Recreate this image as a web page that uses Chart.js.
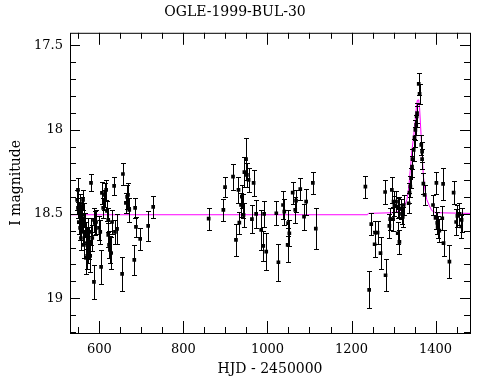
<!DOCTYPE html>
<html>
<head>
<meta charset="utf-8">
<script src="https://cdn.jsdelivr.net/npm/chart.js@4.4.1/dist/chart.umd.min.js"></script>
<style>
html,body{margin:0;padding:0;background:#fff}
</style>
</head>
<body>
<canvas id="c" width="490" height="380"></canvas>
<script>
// photometry: HJD-2450000, I mag, error
const hjd = [
  547,549,549,551,551,554,554,556,556,559,559,561,561,563,563,566,568,568,571,571,
  573,573,575,578,580,580,583,587,587,589,592,599,602,604,606,609,611,613,616,618,
  621,621,623,625,628,630,635,637,642,654,656,663,666,668,671,683,685,687,697,716,728,
  860,895,899,918,925,931,933,937,939,941,943,945,949,951,955,963,967,973,985,990,
  992,997,1021,1026,1037,1040,1049,1048,1052,1060,1066,1068,1078,1087,1092,1108,1115,
  1233,1242,1247,1255,1256,1262,1269,1280,1281,1290,1292,1296,1299,1300,1302,1306,1310,1310,1312,1314,
  1317,1320,1322,1324,1336,1338,1340,1342,1344,1345,1348,1350,1352,1354,1355,1356,1360,1362,1366,1368,
  1368,1371,1374,1394,1400,1402,1404,1405,1409,1416,1418,1419,1433,1443,1449,1452,1457,1462,1461
];
const mag = [
  18.417,18.357,18.464,18.494,18.548,18.441,18.583,18.506,18.643,18.458,18.536,18.417,18.607,18.684,18.506,18.565,18.631,18.761,18.672,18.749,
  18.595,18.714,18.672,18.749,18.316,18.607,18.643,18.904,18.536,18.553,18.548,18.583,18.607,18.815,18.375,18.464,18.417,18.387,18.357,18.482,
  18.536,18.625,18.684,18.714,18.732,18.548,18.334,18.607,18.589,18.856,18.263,18.435,18.399,18.387,18.476,18.773,18.464,18.577,18.648,18.571,18.458,
  18.528,18.476,18.341,18.279,18.654,18.357,18.552,18.447,18.397,18.452,18.506,18.252,18.175,18.268,18.298,18.531,18.316,18.5,18.595,18.69,
  18.5,18.724,18.496,18.787,18.447,18.486,18.555,18.684,18.615,18.374,18.476,18.421,18.353,18.516,18.427,18.316,18.587,
  18.338,18.951,18.561,18.68,18.611,18.611,18.733,18.37,18.864,18.571,18.531,18.357,18.531,18.427,18.452,18.427,18.466,18.615,18.457,18.666,
  18.47,18.5,18.518,18.447,18.437,18.374,18.338,18.288,18.219,18.175,18.12,18.045,18.001,17.972,17.922,17.902,17.728,17.787,18.09,18.175,
  18.131,18.32,18.387,18.447,18.524,18.316,18.553,18.577,18.599,18.526,18.322,18.674,18.783,18.374,18.548,18.512,18.5,18.536,18.575
];
const err = [
  0.059,0.071,0.06,0.06,0.07,0.06,0.07,0.06,0.07,0.06,0.06,0.06,0.07,0.08,0.07,0.07,0.08,0.095,0.08,0.08,
  0.07,0.08,0.095,0.095,0.05,0.08,0.08,0.1,0.07,0.07,0.07,0.07,0.07,0.1,0.065,0.06,0.06,0.07,0.06,0.06,
  0.07,0.07,0.08,0.08,0.095,0.07,0.055,0.07,0.09,0.1,0.065,0.06,0.07,0.07,0.07,0.09,0.06,0.06,0.065,0.09,0.065,
  0.065,0.065,0.06,0.077,0.095,0.077,0.065,0.07,0.07,0.07,0.07,0.09,0.125,0.07,0.07,0.085,0.077,0.085,0.12,0.09,
  0.077,0.11,0.07,0.11,0.085,0.077,0.077,0.1,0.077,0.065,0.077,0.065,0.065,0.077,0.077,0.065,0.12,
  0.065,0.11,0.065,0.077,0.07,0.07,0.095,0.07,0.095,0.07,0.065,0.077,0.07,0.06,0.06,0.06,0.06,0.065,0.06,0.07,
  0.06,0.06,0.06,0.06,0.06,0.06,0.06,0.06,0.06,0.06,0.065,0.06,0.06,0.06,0.06,0.06,0.065,0.06,0.06,0.06,
  0.06,0.06,0.06,0.06,0.065,0.065,0.065,0.065,0.07,0.07,0.095,0.077,0.1,0.07,0.077,0.065,0.065,0.07,0.07
];

// microlensing model curve (magenta)
const modelHjd = [530,1238,1240,1300,1315,1325,1332,1336,1340,1344,1348,1352,1355,1357,1360,1362,1364,1367,1371,1375,1379,1385,1391,1400,1482];
const modelMag = [18.505,18.505,18.497,18.493,18.483,18.46,18.414,18.35,18.235,18.12,18.037,17.94,17.85,17.825,17.823,17.87,17.96,18.097,18.275,18.36,18.414,18.45,18.48,18.493,18.497];

const xTicks = [600,800,1000,1200,1400];
const yTicks = [17.5,18,18.5,19];

const FONT = "'DejaVu Serif', serif";

const errorBars = {
  id: 'errorBars',
  afterDatasetsDraw(chart) {
    const {ctx, scales: {x, y}} = chart;
    ctx.save();
    ctx.strokeStyle = '#000';
    ctx.lineWidth = 1;
    ctx.beginPath();
    hjd.forEach((t, i) => {
      const px = Math.round(x.getPixelForValue(t)) + 0.5;
      const y1 = Math.round(y.getPixelForValue(mag[i] - err[i])) + 0.5;
      const y2 = Math.round(y.getPixelForValue(mag[i] + err[i])) + 0.5;
      ctx.moveTo(px, y1); ctx.lineTo(px, y2);
      ctx.moveTo(px - 2.5, y1); ctx.lineTo(px + 2.5, y1);
      ctx.moveTo(px - 2.5, y2); ctx.lineTo(px + 2.5, y2);
    });
    ctx.stroke();
    ctx.restore();
  }
};

// box with inward ticks on all four sides
const frame = {
  id: 'frame',
  afterDraw(chart) {
    const {ctx, chartArea: {left, right, top, bottom}, scales: {x, y}} = chart;
    ctx.save();
    ctx.strokeStyle = '#000';
    ctx.lineWidth = 1;
    ctx.strokeRect(left + 0.5, top + 0.5, right - left, bottom - top);
    ctx.beginPath();
    for (let v = 550; v <= 1450; v += 50) {
      const px = Math.round(x.getPixelForValue(v)) + 0.5;
      const len = v % 200 === 0 ? 12 : 6;
      ctx.moveTo(px, top); ctx.lineTo(px, top + len);
      ctx.moveTo(px, bottom); ctx.lineTo(px, bottom - len);
    }
    for (let k = 175; k <= 192; k++) {
      const py = Math.round(y.getPixelForValue(k / 10)) + 0.5;
      const len = k % 5 === 0 ? 10 : 6;
      ctx.moveTo(left, py); ctx.lineTo(left + len, py);
      ctx.moveTo(right, py); ctx.lineTo(right - len, py);
    }
    ctx.stroke();
    ctx.restore();
  }
};

new Chart(document.getElementById('c'), {
  type: 'scatter',
  data: {
    datasets: [
      {
        type: 'line',
        data: modelHjd.map((t, i) => ({x: t, y: modelMag[i]})),
        borderColor: '#ff00ff',
        borderWidth: 1,
        pointRadius: 0,
        fill: false,
        tension: 0,
        order: 2
      },
      {
        data: hjd.map((t, i) => ({x: t, y: mag[i]})),
        backgroundColor: '#000',
        borderColor: '#000',
        borderWidth: 0,
        pointStyle: 'rect',
        pointRadius: 2.6,
        order: 1
      }
    ]
  },
  options: {
    responsive: false,
    animation: false,
    devicePixelRatio: 1,
    layout: {padding: {left: 0, right: 20, top: 0, bottom: 0}},
    plugins: {
      legend: {display: false},
      tooltip: {enabled: false},
      title: {
        display: true,
        text: 'OGLE-1999-BUL-30',
        color: '#000',
        font: {family: FONT, size: 14, weight: 'normal'},
        padding: {top: 4, bottom: 12}
      }
    },
    scales: {
      x: {
        type: 'linear',
        min: 530, max: 1482,
        afterBuildTicks: s => { s.ticks = xTicks.map(v => ({value: v})); },
        afterFit: s => { s.height = 47; },
        grid: {display: false, drawTicks: false},
        border: {display: false},
        ticks: {color: '#000', font: {family: FONT, size: 13}, padding: 9, maxRotation: 0, callback: v => String(v)},
        title: {display: true, text: 'HJD - 2450000', color: '#000', font: {family: FONT, size: 14}, padding: {top: 0, bottom: 2}}
      },
      y: {
        type: 'linear',
        reverse: true,
        min: 17.425, max: 19.207,
        afterBuildTicks: s => { s.ticks = yTicks.map(v => ({value: v})); },
        afterFit: s => { s.width = 70; },
        grid: {display: false, drawTicks: false},
        border: {display: false},
        ticks: {color: '#000', font: {family: FONT, size: 13}, padding: 7, callback: v => String(v)},
        title: {display: true, text: 'I magnitude', color: '#000', font: {family: FONT, size: 14}, padding: {top: 8, bottom: 0}}
      }
    }
  },
  plugins: [errorBars, frame]
});
</script>
</body>
</html>
